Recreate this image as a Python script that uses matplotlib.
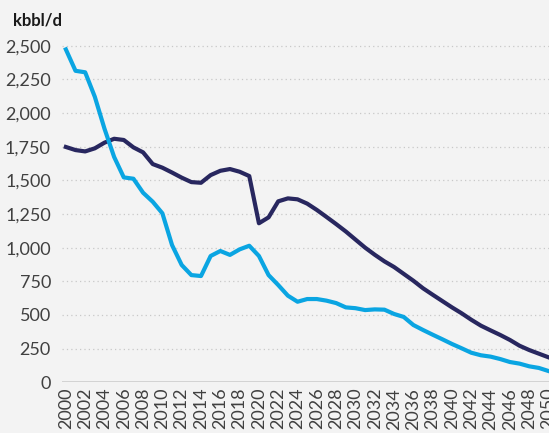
import matplotlib
matplotlib.use("Agg")
import matplotlib.pyplot as plt
import numpy as np

years = list(range(2000, 2051))
light_blue = [2473, 2314, 2303, 2121, 1884, 1674, 1522, 1512, 1408, 1341,
              1255, 1019, 871, 796, 789, 938, 975, 946, 987, 1014,
              938, 796, 722, 643, 598, 618, 618, 606, 588, 556,
              550, 536, 541, 539, 507, 485, 425, 388, 353, 319,
              284, 252, 219, 200, 190, 172, 150, 138, 118, 106, 83]
dark_navy = [1748, 1725, 1715, 1738, 1780, 1809, 1800, 1745, 1708, 1621,
             1594, 1558, 1520, 1487, 1482, 1539, 1571, 1584, 1564, 1532,
             1181, 1225, 1344, 1366, 1359, 1327, 1280, 1228, 1175, 1120,
             1060, 1000, 947, 898, 856, 805, 754, 698, 650, 603,
             556, 512, 464, 420, 385, 351, 314, 271, 239, 212, 185]
y_ticks = [0, 250, 500, 750, 1000, 1250, 1500, 1750, 2000, 2250, 2500]
x_ticks = list(range(2000, 2051, 2))
unit_label = "kbbl/d"

bg = "#f3f3f3"
W, H = 549, 433
fig = plt.figure(figsize=(W / 100, H / 100), dpi=100, facecolor=bg)
ax = fig.add_axes([62 / W, (H - 382.2) / H, (W - 62) / W, (382.2 - 40) / H])
ax.set_facecolor(bg)

ax.plot(years, dark_navy, color="#28275f", lw=3.0, solid_joinstyle="round", zorder=3)
ax.plot(years, light_blue, color="#0aa5e2", lw=3.0, solid_joinstyle="round", zorder=4)

ax.set_xlim(1999.6, 2050.05)
ax.set_ylim(0, 2543)

for v in y_ticks[1:]:
    ax.axhline(v, color="#c8c8c8", lw=0.9, ls=(0, (1, 2.5)), zorder=1)
ax.axhline(0, color="#d0d0d0", lw=2.0, zorder=2)

for s in ax.spines.values():
    s.set_visible(False)

ax.set_yticks(y_ticks)
ax.set_yticklabels([f"{v:,}" for v in y_ticks])
ax.set_xticks(x_ticks)
ax.set_xticklabels([str(x) for x in x_ticks], rotation=90, va="top", ha="center")
ax.tick_params(axis="both", length=0, colors="#404040", labelsize=13)
ax.tick_params(axis="y", pad=8)
ax.tick_params(axis="x", pad=4)
for lab in ax.get_xticklabels() + ax.get_yticklabels():
    lab.set_family(["Lato", "DejaVu Sans"])
    lab.set_fontweight("normal")

fig.text(13 / W, 1 - 26 / H, unit_label, fontsize=12, fontweight="bold",
         family=["Lato", "DejaVu Sans"], color="#1a1a1a", ha="left", va="baseline")

fig.savefig("out.png", dpi=100, facecolor=bg)
